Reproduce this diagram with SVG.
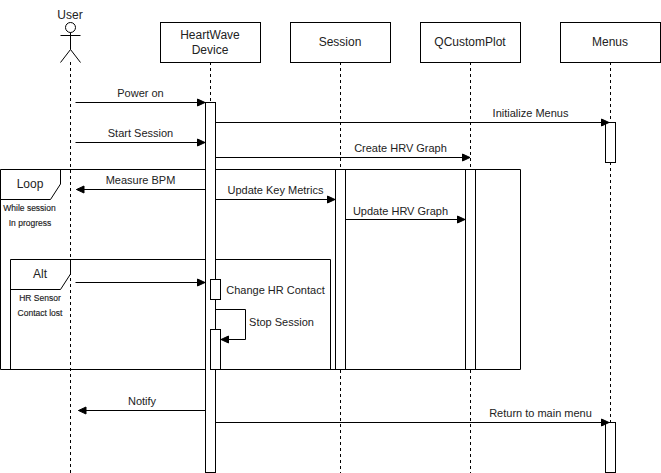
<svg xmlns="http://www.w3.org/2000/svg" width="661" height="473" viewBox="0 0 661 473">
<style>
text{font-family:"Liberation Sans",Arial,sans-serif;font-size:12px;fill:#222;text-anchor:middle}
#labels text{font-size:11px}
text.s{font-size:8.5px;stroke:#222;stroke-width:.15px}
.b{fill:#fff;stroke:#000;stroke-width:1}
.f{fill:none;stroke:#000;stroke-width:1}
.l{fill:none;stroke:#000;stroke-width:1;stroke-dasharray:3 3}
.m{fill:none;stroke:#000;stroke-width:1}
</style>
<defs>
<marker id="a" markerUnits="userSpaceOnUse" markerWidth="9" markerHeight="9" refX="8" refY="4.5" orient="auto"><path d="M0.5 1L8 4.5L0.5 8Z" fill="#000" stroke="#000" stroke-width="1"/></marker>
</defs>
<rect width="661" height="473" fill="#fff"/>
<g id="lifelines">
<path class="l" d="M70.5 62V473M210.5 62V102M340.5 62V169M470.5 62V169M610.5 62V122M610.5 162V422M340.5 370V473M470.5 370V473"/>
</g>
<g id="user">
<circle class="b" cx="70.5" cy="27.5" r="5"/>
<path class="f" d="M70.5 32.5V49.5M60.5 35.5H80.5M70.5 49.5L60.5 62.5M70.5 49.5L80.5 62.5"/>
<text x="70" y="19">User</text>
</g>
<g id="device">
<rect class="b" x="160.5" y="22.5" width="100" height="40"/>
<text x="210" y="39">HeartWave</text>
<text x="210" y="54">Device</text>
</g>
<g id="session">
<rect class="b" x="290.5" y="22.5" width="100" height="40"/>
<text x="340" y="46">Session</text>
</g>
<g id="qcustomplot">
<rect class="b" x="420.5" y="22.5" width="100" height="40"/>
<text x="470" y="46">QCustomPlot</text>
</g>
<g id="menus">
<rect class="b" x="560.5" y="22.5" width="100" height="40"/>
<text x="610" y="46">Menus</text>
</g>
<g id="loop-frame">
<path class="f" d="M0.5 169.5H520.5V369.5H0.5M0.5 169.5V369.5M60.5 169.5V184L50.5 199.5H0.5"/>
<text x="30" y="188">Loop</text>
<text class="s" x="29.5" y="211">While session</text>
<text class="s" x="30" y="226">In progress</text>
</g>
<g id="alt-frame">
<path class="f" d="M10.5 369.5V259.5H330.5V369.5M70.5 259.5V274L60.5 289.5H10.5"/>
<text x="40" y="278">Alt</text>
<text class="s" x="40" y="301">HR Sensor</text>
<text class="s" x="40" y="316">Contact lost</text>
</g>
<g id="activations">
<rect class="b" x="205.5" y="102.5" width="10" height="370"/>
<rect class="b" x="605.5" y="122.5" width="10" height="40"/>
<rect class="b" x="605.5" y="422.5" width="10" height="50"/>
<rect class="b" x="335.5" y="169.5" width="10" height="200"/>
<rect class="b" x="465.5" y="169.5" width="10" height="200"/>
<rect class="b" x="210.5" y="279.5" width="10" height="20"/>
<rect class="b" x="210.5" y="329.5" width="10" height="40"/>
</g>
<g id="connectors">
<path class="m" marker-end="url(#a)" d="M75.5 102.5H205"/>
<path class="m" marker-end="url(#a)" d="M75.5 142.5H205"/>
<path class="m" marker-end="url(#a)" d="M215.5 122.5H609"/>
<path class="m" marker-end="url(#a)" d="M215.5 157.5H470"/>
<path class="m" marker-end="url(#a)" d="M205.5 189.5H76.5"/>
<path class="m" marker-end="url(#a)" d="M215.5 199.5H335"/>
<path class="m" marker-end="url(#a)" d="M345.5 219.5H465"/>
<path class="m" marker-end="url(#a)" d="M75.5 282.5H205"/>
<path class="m" marker-end="url(#a)" d="M215.5 309.5H245.5V339.5H221"/>
<path class="m" marker-end="url(#a)" d="M205.5 410.5H78.5"/>
<path class="m" marker-end="url(#a)" d="M215.5 422.5H609"/>
</g>
<g id="labels">
<text x="140.5" y="97">Power on</text>
<text x="140.5" y="137">Start Session</text>
<text x="530.5" y="117">Initialize Menus</text>
<text x="400.5" y="152">Create HRV Graph</text>
<text x="140.5" y="184">Measure BPM</text>
<text x="275.5" y="194">Update Key Metrics</text>
<text x="400.5" y="215">Update HRV Graph</text>
<text x="275.5" y="294">Change HR Contact</text>
<text x="281.5" y="326">Stop Session</text>
<text x="142" y="405">Notify</text>
<text x="540.5" y="417">Return to main menu</text>
</g>
</svg>
